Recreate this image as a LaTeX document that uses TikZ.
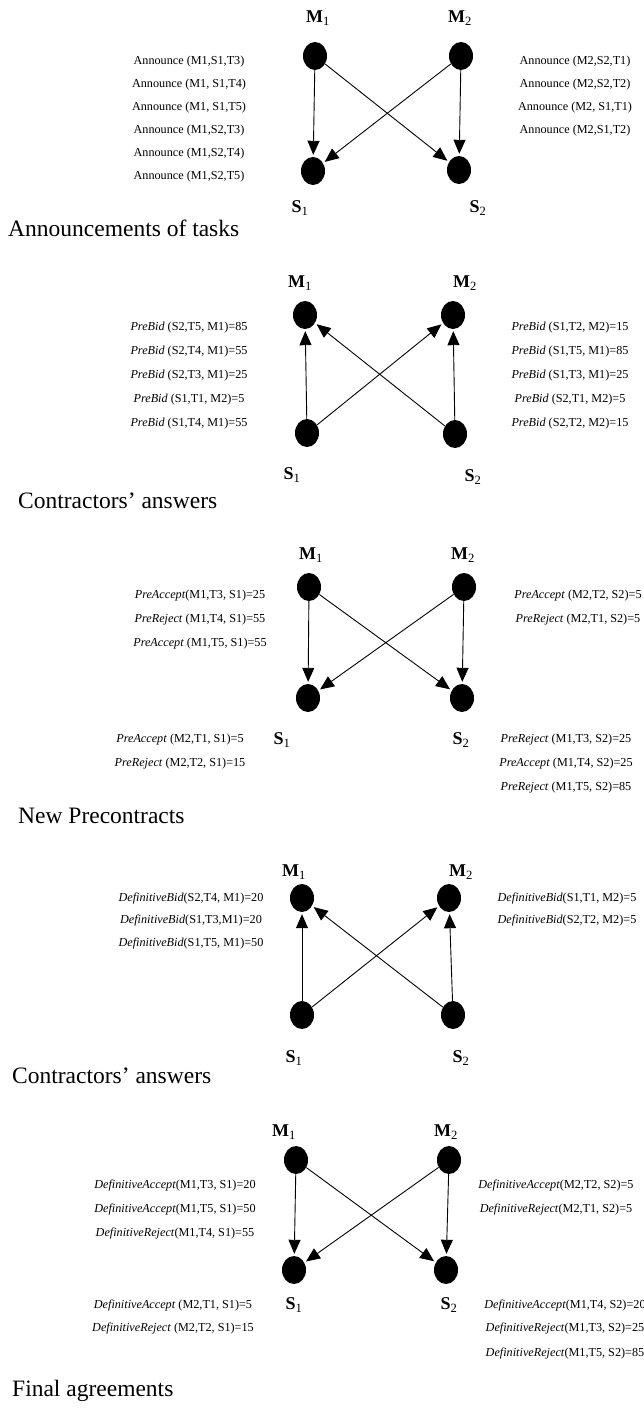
\documentclass[tikz,border=0pt]{standalone}
\usepackage{fontspec}
\setmainfont{Liberation Serif}
\usetikzlibrary{arrows.meta,shapes.geometric}
\tikzset{
  agent/.style={ellipse, fill=black, minimum width=24pt, minimum height=28pt, inner sep=0pt},
  agentname/.style={font=\fontsize{18}{20}\selectfont\bfseries, inner sep=0pt},
  msg/.style={font=\fontsize{12.2}{14}\selectfont, inner sep=0pt},
  caption/.style={font=\fontsize{23.5}{27}\selectfont, inner sep=0pt, anchor=base west},
  flow/.style={-{Triangle[length=14pt,width=12pt]}, line width=0.9pt, shorten >=2pt},
}
\newcommand\agsub[1]{\textsubscript{\mdseries #1}}
\begin{document}
\begin{tikzpicture}[x=1pt,y=-1pt]
\useasboundingbox (0,0) rectangle (643,1411);

% ---------- Stage 1: announcements ----------
\node[agent] (a1m1) at (315,56) {};
\node[agent] (a1m2) at (461,56) {};
\node[agent] (a1s1) at (313,171) {};
\node[agent] (a1s2) at (459,170) {};
\node[agentname] (a1m1n) at (318,18) {M\agsub{1}};
\node[agentname] (a1m2n) at (460,18) {M\agsub{2}};
\node[agentname] (a1s1n) at (300,208) {S\agsub{1}};
\node[agentname] (a1s2n) at (478,208) {S\agsub{2}};
\draw[flow] (a1m1) -- (a1s1);
\draw[flow] (a1m1) -- (a1s2);
\draw[flow] (a1m2) -- (a1s1);
\draw[flow] (a1m2) -- (a1s2);
\node[msg] (a1l1) at (189,62)  {Announce (M1,S1,T3)};
\node[msg] (a1l2) at (189,85)  {Announce (M1, S1,T4)};
\node[msg] (a1l3) at (189,108) {Announce (M1, S1,T5)};
\node[msg] (a1l4) at (189,131) {Announce (M1,S2,T3)};
\node[msg] (a1l5) at (189,154) {Announce (M1,S2,T4)};
\node[msg] (a1l6) at (189,177) {Announce (M1,S2,T5)};
\node[msg] (a1r1) at (575,62)  {Announce (M2,S2,T1)};
\node[msg] (a1r2) at (575,85)  {Announce (M2,S2,T2)};
\node[msg] (a1r3) at (575,108) {Announce (M2, S1,T1)};
\node[msg] (a1r4) at (575,131) {Announce (M2,S1,T2)};
\node[caption] (a1t) at (8,236) {Announcements of tasks};

% ---------- Stage 2: pre-bids ----------
\node[agent] (a2m1) at (305,315) {};
\node[agent] (a2m2) at (453,315) {};
\node[agent] (a2s1) at (307,433) {};
\node[agent] (a2s2) at (455,434) {};
\node[agentname] (a2m1n) at (300,283) {M\agsub{1}};
\node[agentname] (a2m2n) at (465,283) {M\agsub{2}};
\node[agentname] (a2s1n) at (292,475) {S\agsub{1}};
\node[agentname] (a2s2n) at (473,477) {S\agsub{2}};
\draw[flow] (a2s1) -- (a2m1);
\draw[flow] (a2s1) -- (a2m2);
\draw[flow] (a2s2) -- (a2m1);
\draw[flow] (a2s2) -- (a2m2);
\node[msg] (a2l1) at (189,328) {\textit{PreBid} (S2,T5, M1)=85};
\node[msg] (a2l2) at (189,352) {\textit{PreBid} (S2,T4, M1)=55};
\node[msg] (a2l3) at (189,376) {\textit{PreBid} (S2,T3, M1)=25};
\node[msg] (a2l4) at (189,400) {\textit{PreBid} (S1,T1, M2)=5};
\node[msg] (a2l5) at (189,424) {\textit{PreBid} (S1,T4, M1)=55};
\node[msg] (a2r1) at (570,328) {\textit{PreBid} (S1,T2, M2)=15};
\node[msg] (a2r2) at (570,352) {\textit{PreBid} (S1,T5, M1)=85};
\node[msg] (a2r3) at (570,376) {\textit{PreBid} (S1,T3, M1)=25};
\node[msg] (a2r4) at (570,400) {\textit{PreBid} (S2,T1, M2)=5};
\node[msg] (a2r5) at (570,424) {\textit{PreBid} (S2,T2, M2)=15};
\node[caption] (a2t) at (18,508) {Contractors’ answers};

% ---------- Stage 3: precontracts ----------
\node[agent] (a3m1) at (309,587) {};
\node[agent] (a3m2) at (464,587) {};
\node[agent] (a3s1) at (308,698) {};
\node[agent] (a3s2) at (462,698) {};
\node[agentname] (a3m1n) at (311,555) {M\agsub{1}};
\node[agentname] (a3m2n) at (463,555) {M\agsub{2}};
\node[agentname] (a3s1n) at (282,740) {S\agsub{1}};
\node[agentname] (a3s2n) at (461,740) {S\agsub{2}};
\draw[flow] (a3m1) -- (a3s1);
\draw[flow] (a3m1) -- (a3s2);
\draw[flow] (a3m2) -- (a3s1);
\draw[flow] (a3m2) -- (a3s2);
\node[msg] (a3l1) at (200,596) {\textit{PreAccept}(M1,T3, S1)=25};
\node[msg] (a3l2) at (200,620) {\textit{PreReject} (M1,T4, S1)=55};
\node[msg] (a3l3) at (200,644) {\textit{PreAccept} (M1,T5, S1)=55};
\node[msg] (a3r1) at (578,596) {\textit{PreAccept} (M2,T2, S2)=5};
\node[msg] (a3r2) at (578,620) {\textit{PreReject} (M2,T1, S2)=5};
\node[msg] (a3b1) at (180,740) {\textit{PreAccept} (M2,T1, S1)=5};
\node[msg] (a3b2) at (180,764) {\textit{PreReject} (M2,T2, S1)=15};
\node[msg] (a3c1) at (566,740) {\textit{PreReject} (M1,T3, S2)=25};
\node[msg] (a3c2) at (566,764) {\textit{PreAccept} (M1,T4, S2)=25};
\node[msg] (a3c3) at (566,788) {\textit{PreReject} (M1,T5, S2)=85};
\node[caption] (a3t) at (18,823) {New Precontracts};

% ---------- Stage 4: definitive bids ----------
\node[agent] (a4m1) at (302,898) {};
\node[agent] (a4m2) at (449,898) {};
\node[agent] (a4s1) at (302,1015) {};
\node[agent] (a4s2) at (453,1015) {};
\node[agentname] (a4m1n) at (294,872) {M\agsub{1}};
\node[agentname] (a4m2n) at (461,872) {M\agsub{2}};
\node[agentname] (a4s1n) at (294,1058) {S\agsub{1}};
\node[agentname] (a4s2n) at (461,1058) {S\agsub{2}};
\draw[flow] (a4s1) -- (a4m1);
\draw[flow] (a4s1) -- (a4m2);
\draw[flow] (a4s2) -- (a4m1);
\draw[flow] (a4s2) -- (a4m2);
\node[msg] (a4l1) at (191,898) {\textit{DefinitiveBid}(S2,T4, M1)=20};
\node[msg] (a4l2) at (191,920) {\textit{DefinitiveBid}(S1,T3,M1)=20};
\node[msg] (a4l3) at (191,943) {\textit{DefinitiveBid}(S1,T5, M1)=50};
\node[msg] (a4r1) at (567,898) {\textit{DefinitiveBid}(S1,T1, M2)=5};
\node[msg] (a4r2) at (567,920) {\textit{DefinitiveBid}(S2,T2, M2)=5};
\node[caption] (a4t) at (12,1083) {Contractors’ answers};

% ---------- Stage 5: final agreements ----------
\node[agent] (a5m1) at (296,1160) {};
\node[agent] (a5m2) at (449,1160) {};
\node[agent] (a5s1) at (294,1270) {};
\node[agent] (a5s2) at (446,1270) {};
\node[agentname] (a5m1n) at (284,1132) {M\agsub{1}};
\node[agentname] (a5m2n) at (446,1132) {M\agsub{2}};
\node[agentname] (a5s1n) at (294,1305) {S\agsub{1}};
\node[agentname] (a5s2n) at (449,1305) {S\agsub{2}};
\draw[flow] (a5m1) -- (a5s1);
\draw[flow] (a5m1) -- (a5s2);
\draw[flow] (a5m2) -- (a5s1);
\draw[flow] (a5m2) -- (a5s2);
\node[msg] (a5l1) at (175,1185) {\textit{DefinitiveAccept}(M1,T3, S1)=20};
\node[msg] (a5l2) at (175,1209) {\textit{DefinitiveAccept}(M1,T5, S1)=50};
\node[msg] (a5l3) at (175,1233) {\textit{DefinitiveReject}(M1,T4, S1)=55};
\node[msg] (a5r1) at (556,1185) {\textit{DefinitiveAccept}(M2,T2, S2)=5};
\node[msg] (a5r2) at (556,1209) {\textit{DefinitiveReject}(M2,T1, S2)=5};
\node[msg] (a5b1) at (173,1305) {\textit{DefinitiveAccept} (M2,T1, S1)=5};
\node[msg] (a5b2) at (173,1328) {\textit{DefinitiveReject} (M2,T2, S1)=15};
\node[msg] (a5c1) at (565,1305) {\textit{DefinitiveAccept}(M1,T4, S2)=20};
\node[msg] (a5c2) at (565,1328) {\textit{DefinitiveReject}(M1,T3, S2)=25};
\node[msg] (a5c3) at (565,1353) {\textit{DefinitiveReject}(M1,T5, S2)=85};
\node[caption] (a5t) at (12,1396) {Final agreements};
\end{tikzpicture}
\end{document}
